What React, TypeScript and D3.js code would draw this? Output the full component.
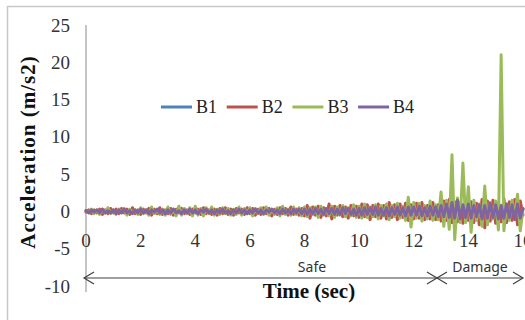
import * as d3 from 'd3';

// accelerometer record, one value every SAMPLE_STEP seconds (0 .. 16 s)
const SAMPLE_STEP = 0.1;

const b1 = [
  0.1, -0.1, 0.2, -0.1, 0.1, -0.2, 0.1, -0.1, 0.2, -0.1,
  0.1, -0.2, 0.1, -0.1, 0.2, -0.1, 0.1, -0.2, 0.1, -0.1,
  0.2, -0.1, 0.1, -0.2, 0.2, -0.1, 0.1, -0.1, 0.2, -0.2,
  0.1, -0.1, 0.2, -0.1, 0.1, -0.2, 0.2, -0.1, 0.1, -0.1,
  0.2, -0.2, 0.1, -0.1, 0.2, -0.1, 0.1, -0.2, 0.2, -0.1,
  0.1, -0.1, 0.2, -0.2, 0.1, -0.1, 0.2, -0.1, 0.1, -0.2,
  0.2, -0.1, 0.1, -0.2, 0.2, -0.1, 0.2, -0.2, 0.1, -0.1,
  0.2, -0.2, 0.1, -0.2, 0.2, -0.1, 0.2, -0.2, 0.2, -0.1,
  0.2, -0.3, 0.2, -0.2, 0.3, -0.2, 0.2, -0.3, 0.3, -0.2,
  0.3, -0.3, 0.2, -0.3, 0.3, -0.2, 0.3, -0.3, 0.2, -0.3,
  0.3, -0.3, 0.4, -0.3, 0.3, -0.4, 0.3, -0.3, 0.4, -0.3,
  0.4, -0.4, 0.3, -0.4, 0.4, -0.3, 0.4, -0.4, 0.5, -0.4,
  0.4, -0.4, 0.5, -0.4, 0.4, -0.5, 0.4, -0.4, 0.5, -0.5,
  0.6, -0.5, 0.7, -0.6, 0.8, -0.7, 0.9, -0.6, 0.7, -0.6,
  0.7, -0.6, 0.6, -0.5, 0.7, -0.7, 0.6, -0.6, 0.8, -0.6,
  0.7, -0.7, 0.6, -0.7, 0.7, -0.6, 0.7, -0.8, 0.7, -0.6, 0.3,
];

const b2 = [
  -0.1, 0.2, -0.3, 0.2, -0.2, 0.3, -0.4, 0.2, -0.3, 0.4,
  -0.2, 0.3, -0.3, 0.4, -0.2, 0.3, -0.4, 0.5, -0.3, 0.2,
  -0.4, 0.3, -0.2, 0.4, -0.5, 0.3, -0.3, 0.5, -0.4, 0.2,
  -0.3, 0.4, -0.5, 0.3, -0.2, 0.4, -0.3, 0.2, -0.4, 0.3,
  -0.2, 0.3, -0.4, 0.5, -0.3, 0.2, -0.4, 0.3, -0.5, 0.4,
  -0.3, 0.5, -0.4, 0.3, -0.5, 0.4, -0.2, 0.3, -0.4, 0.5,
  -0.3, 0.4, -0.5, 0.3, -0.4, 0.5, -0.3, 0.4, -0.6, 0.3,
  -0.4, 0.5, -0.3, 0.4, -0.5, 0.6, -0.4, 0.3, -0.5, 0.4,
  -0.6, 0.8, -0.9, 0.6, -0.5, 0.7, -0.8, 0.5, -0.6, 1.0,
  -1.0, 0.7, -0.5, 0.8, -0.7, 0.6, -0.9, 0.8, -0.6, 0.7,
  -0.8, 1.0, -0.7, 0.9, -1.1, 0.8, -0.7, 1.0, -0.9, 0.8,
  -1.0, 1.2, -0.8, 0.9, -1.1, 1.0, -0.8, 1.1, -1.2, 0.9,
  -1.0, 1.1, -0.9, 1.2, -1.1, 0.8, -1.0, 1.2, -1.1, 0.9,
  -1.3, 1.4, -1.2, 1.6, -1.5, 1.3, -1.4, 1.2, -1.6, 1.5,
  -1.2, 1.3, -1.5, 1.1, -1.8, 1.6, -2.2, 1.4, -1.3, 1.5,
  -1.6, 1.2, -1.4, 1.7, -1.5, 1.3, -1.2, 1.6, -1.8, 1.4, -0.5,
];

const b3 = [
  0.1, -0.2, 0.3, -0.3, 0.2, -0.4, 0.3, -0.2, 0.5, -0.3,
  0.2, -0.4, 0.3, -0.2, 0.4, -0.5, 0.3, -0.2, 0.2, -0.4,
  0.5, -0.3, 0.2, -0.5, 0.6, -0.3, 0.2, -0.4, 0.3, -0.5,
  0.6, -0.4, 0.3, -0.6, 0.7, -0.5, 0.4, -0.3, 0.5, -0.6,
  0.7, -0.5, 0.4, -0.6, 0.5, -0.3, 0.6, -0.5, 0.3, -0.4,
  0.5, -0.3, 0.4, -0.5, 0.3, -0.4, 0.6, -0.5, 0.4, -0.3,
  0.5, -0.6, 0.4, -0.3, 0.5, -0.4, 0.6, -0.5, 0.3, -0.4,
  0.5, -0.6, 0.7, -0.4, 0.3, -0.5, 0.6, -0.4, 0.5, -0.6,
  0.6, -0.7, 0.5, -0.4, 0.6, -0.8, 0.7, -0.5, 0.4, -0.6,
  0.7, -0.8, 0.6, -0.5, 0.8, -0.7, 0.5, -0.6, 0.9, -0.8,
  0.7, -0.9, 1.0, -0.8, 0.6, -0.7, 0.9, -1.0, 0.8, -0.6,
  1.0, -1.1, 0.8, -0.7, 1.1, -0.9, 0.7, -1.2, 1.9, -2.1,
  1.2, -0.9, 1.1, -1.3, 0.8, -1.0, 1.4, -1.2, 0.9, -1.1,
  2.6, -2.0, 1.5, -2.4, 7.6, -3.8, 1.8, -1.5, 6.5, -1.5,
  3.3, -2.8, 1.5, -1.2, 1.0, -2.0, 3.4, -1.8, 1.2, -1.0,
  1.4, -2.5, 21.0, -2.6, 1.0, -1.2, 1.5, -0.8, 2.3, -2.6, 0.3,
];

const b4 = [
  0.1, -0.2, 0.2, -0.1, 0.2, -0.2, 0.3, -0.2, 0.1, -0.2,
  0.2, -0.3, 0.2, -0.2, 0.3, -0.2, 0.1, -0.3, 0.2, -0.2,
  0.3, -0.2, 0.2, -0.3, 0.2, -0.1, 0.3, -0.2, 0.2, -0.3,
  0.2, -0.2, 0.3, -0.2, 0.1, -0.3, 0.2, -0.2, 0.3, -0.2,
  0.2, -0.3, 0.2, -0.1, 0.3, -0.2, 0.2, -0.3, 0.2, -0.2,
  0.3, -0.2, 0.1, -0.3, 0.2, -0.2, 0.3, -0.2, 0.2, -0.3,
  0.2, -0.2, 0.3, -0.2, 0.2, -0.3, 0.2, -0.1, 0.3, -0.2,
  0.2, -0.3, 0.3, -0.2, 0.2, -0.3, 0.3, -0.2, 0.3, -0.3,
  0.3, -0.4, 0.3, -0.3, 0.4, -0.3, 0.3, -0.4, 0.4, -0.3,
  0.4, -0.4, 0.3, -0.4, 0.5, -0.3, 0.4, -0.4, 0.3, -0.5,
  0.4, -0.5, 0.5, -0.4, 0.5, -0.4, 0.6, -0.5, 0.4, -0.5,
  0.5, -0.6, 0.5, -0.4, 0.6, -0.5, 0.5, -0.6, 0.6, -0.5,
  0.6, -0.5, 0.7, -0.6, 0.5, -0.6, 0.7, -0.5, 0.6, -0.7,
  0.8, -0.7, 1.0, -0.8, 1.2, -0.9, 1.5, -1.0, 0.9, -0.8,
  1.0, -0.9, 0.8, -0.7, 0.9, -1.0, 0.8, -0.9, 1.1, -0.8,
  0.9, -1.0, 0.8, -0.9, 1.0, -0.8, 0.9, -1.1, 1.0, -0.9, 0.4,
];

const seriesNames = ['B1', 'B2', 'B3', 'B4'];
const seriesValues = [b1, b2, b3, b4];
const seriesColors = ['#4F81BD', '#C0504D', '#9BBB59', '#8064A2'];

const yTicks = [25, 20, 15, 10, 5, 0, -5, -10];
const xTicks = [0, 2, 4, 6, 8, 10, 12, 14, 16];

// safe / damage split on the time axis
const damageStart = 12.85;

const W = 525;
const H = 320;
const serif = '"Liberation Serif", "Times New Roman", serif';
const sans = '"Noto Sans", "Open Sans", sans-serif';

export default function App() {
  const x = d3.scaleLinear().domain([0, 16]).range([86, 523]);
  const y = d3.scaleLinear().domain([-10, 25]).range([286, 25]);

  const line = d3.line<number>()
    .x((_d, i) => x(i * SAMPLE_STEP))
    .y((d) => y(d))
    .curve(d3.curveLinear);

  const arrowY = 278;
  const ax0 = x(0) - 2;
  const ax1 = x(16);
  const axMid = x(damageStart);
  const head = 10;
  const hh = 6;

  return (
    <svg width={W} height={H} style={{ position: 'absolute', left: 0, top: 0, background: '#fff' }}>
      <rect x={7.5} y={6.5} width={540} height={340} fill="#fff" stroke="#c8c8c8" strokeWidth={1.5} />

      {/* y axis */}
      <line x1={x(0)} x2={x(0)} y1={y(25)} y2={y(-10) + 6} stroke="#8a8a8a" strokeWidth={1} />
      {yTicks.map((t) => (
        <text key={t} x={70} y={y(t) + 6.5} textAnchor="end" fontFamily={serif} fontSize={19} fill="#333">
          {t}
        </text>
      ))}
      {xTicks.map((t) => (
        <text key={t} x={x(t)} y={247} textAnchor="middle" fontFamily={serif} fontSize={19} fill="#333">
          {t}
        </text>
      ))}

      {/* series */}
      {seriesValues.map((vals, i) => (
        <path
          key={seriesNames[i]}
          d={line(vals) ?? ''}
          fill="none"
          stroke={seriesColors[i]}
          strokeWidth={3}
          strokeLinejoin="round"
          strokeLinecap="round"
        />
      ))}

      {/* legend */}
      {seriesNames.map((name, i) => {
        const lx = 161 + i * 65.7;
        return (
          <g key={name}>
            <line x1={lx} x2={lx + 31} y1={107} y2={107} stroke={seriesColors[i]} strokeWidth={3} />
            <text x={lx + 35} y={113} fontFamily={serif} fontSize={18} fill="#222">
              {name}
            </text>
          </g>
        );
      })}

      {/* safe / damage arrows */}
      <g stroke="#404040" strokeWidth={1.2} fill="none">
        <line x1={ax0} x2={ax1} y1={arrowY} y2={arrowY} />
        <polyline points={`${ax0 + head},${arrowY - hh} ${ax0},${arrowY} ${ax0 + head},${arrowY + hh}`} />
        <polyline points={`${axMid - head},${arrowY - hh} ${axMid},${arrowY} ${axMid - head},${arrowY + hh}`} />
        <polyline points={`${axMid + head},${arrowY - hh} ${axMid},${arrowY} ${axMid + head},${arrowY + hh}`} />
        <polyline points={`${ax1 - head},${arrowY - hh} ${ax1},${arrowY} ${ax1 - head},${arrowY + hh}`} />
      </g>
      <text x={312} y={272} textAnchor="middle" fontFamily={sans} fontSize={14} fill="#333">Safe</text>
      <text x={480} y={272} textAnchor="middle" fontFamily={sans} fontSize={14} fill="#333">Damage</text>

      {/* axis titles */}
      <text x={309} y={298} textAnchor="middle" fontFamily={serif} fontSize={21} fontWeight="bold" fill="#111">
        Time (sec)
      </text>
      <text
        transform="translate(28,152) rotate(-90)"
        textAnchor="middle"
        dominantBaseline="central"
        fontFamily={serif}
        fontSize={21}
        fontWeight="bold"
        letterSpacing={1}
        fill="#111"
      >
        Acceleration (m/s2)
      </text>
    </svg>
  );
}
